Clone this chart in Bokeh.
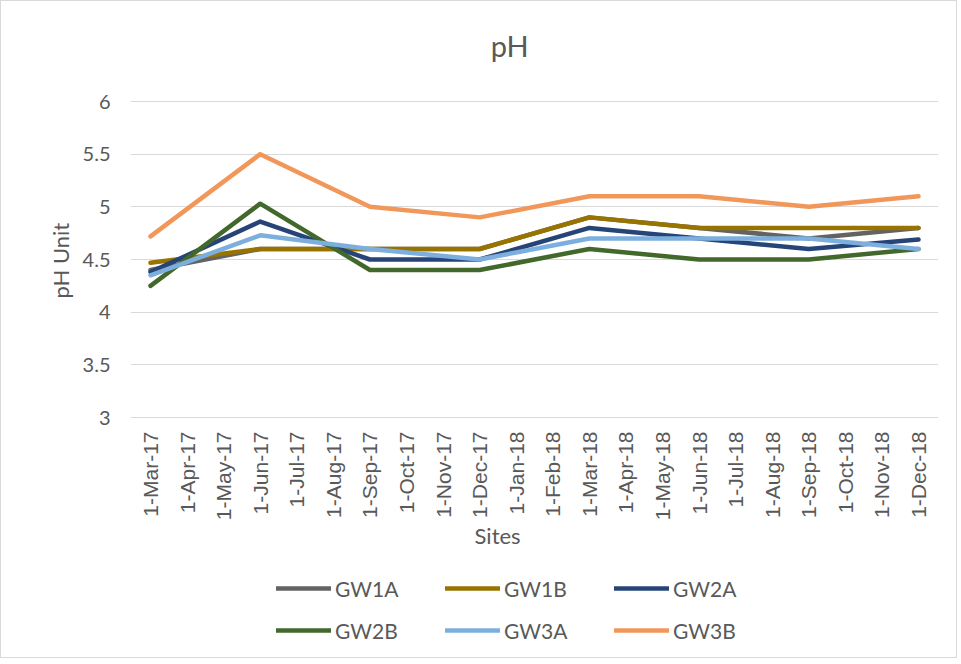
import math
from bokeh.plotting import figure
from bokeh.models import (Legend, LegendItem, FixedTicker, ColumnDataSource, Title,
                          Label, LabelSet)
from bokeh.core.properties import value
from bokeh.embed import file_html
from bokeh.resources import INLINE

# ---- data ----
tick_labels = ["1-Mar-17", "1-Apr-17", "1-May-17", "1-Jun-17", "1-Jul-17", "1-Aug-17",
               "1-Sep-17", "1-Oct-17", "1-Nov-17", "1-Dec-17", "1-Jan-18", "1-Feb-18",
               "1-Mar-18", "1-Apr-18", "1-May-18", "1-Jun-18", "1-Jul-18", "1-Aug-18",
               "1-Sep-18", "1-Oct-18", "1-Nov-18", "1-Dec-18"]
sample_dates = ["1-Mar-17", "1-Jun-17", "1-Sep-17", "1-Dec-17",
                "1-Mar-18", "1-Jun-18", "1-Sep-18", "1-Dec-18"]
GW1A = [4.40, 4.60, 4.60, 4.60, 4.90, 4.80, 4.70, 4.80]
GW1B = [4.47, 4.60, 4.60, 4.60, 4.90, 4.80, 4.80, 4.80]
GW2A = [4.38, 4.86, 4.50, 4.50, 4.80, 4.70, 4.60, 4.69]
GW2B = [4.25, 5.03, 4.40, 4.40, 4.60, 4.50, 4.50, 4.60]
GW3A = [4.35, 4.73, 4.60, 4.50, 4.70, 4.70, 4.70, 4.60]
GW3B = [4.72, 5.50, 5.00, 4.90, 5.10, 5.10, 5.00, 5.10]
series_names = ["GW1A", "GW1B", "GW2A", "GW2B", "GW3A", "GW3B"]
series_values = [GW1A, GW1B, GW2A, GW2B, GW3A, GW3B]
series_colors = ["#636363", "#997300", "#264478", "#43682B", "#7CAFDD", "#F1975A"]
y_ticks = [3, 3.5, 4, 4.5, 5, 5.5, 6]
y_min, y_max = 3, 6

TEXT = "#595959"
FONT = "Lato"
TICK_FONT = "Liberation Sans"

x_idx = [tick_labels.index(d) for d in sample_dates]

# plot area: 316 px for the 3..6 value span; the frame also holds the title,
# the rotated date labels and the legend
px_per_unit = 316 / (y_max - y_min)
y_lo = y_min - 240 / px_per_unit
y_hi = y_max + 100 / px_per_unit

p = figure(frame_width=808, frame_height=656, output_backend="svg", toolbar_location=None,
           x_range=(-0.547, len(tick_labels) - 1 + 0.547), y_range=(y_lo, y_hi),
           min_border_left=129, min_border_right=18, min_border_top=0,
           min_border_bottom=0)
p.styles = {"border": "1px solid #d9d9d9"}
p.outline_line_color = None
p.background_fill_color = "white"
p.border_fill_color = "white"
p.xaxis.visible = False

# y axis
ya = p.yaxis[0]
ya.ticker = FixedTicker(ticks=y_ticks)
ya.major_label_overrides = {t: ("%g" % t) for t in y_ticks}
ya.major_label_text_font = FONT
ya.major_label_text_font_size = "20px"
ya.major_label_text_color = TEXT
ya.major_label_standoff = 20
ya.major_tick_out = 0
ya.major_tick_in = 0
ya.minor_tick_out = 0
ya.minor_tick_in = 0
ya.axis_line_color = None

ylab = Title(text="pH Unit", align="left", offset=359, text_font=FONT,
             text_font_size="22px", text_font_style="normal", text_color=TEXT,
             standoff=12)
p.add_layout(ylab, "left")

p.xgrid.grid_line_color = None
p.ygrid.grid_line_color = "#d9d9d9"
p.ygrid.grid_line_width = 1

items = []
for name, vals, col in zip(series_names, series_values, series_colors):
    src = ColumnDataSource(dict(x=x_idx, y=vals))
    r = p.line("x", "y", source=src, line_color=col, line_width=4.5,
               line_join="round", line_cap="round")
    items.append(LegendItem(label=name, renderers=[r]))

# date tick labels along the bottom of the value area
tick_src = ColumnDataSource(dict(x=list(range(len(tick_labels))),
                                 y=[y_min] * len(tick_labels), text=tick_labels))
p.add_layout(LabelSet(x="x", y="y", text="text", source=tick_src, angle=math.pi / 2,
                      y_offset=-14, text_align="right", text_baseline="middle",
                      text_font=value(TICK_FONT), text_font_size=value("21px"),
                      text_color=value(TEXT)))

# chart title and x-axis title
mid_x = (len(tick_labels) - 1) / 2
p.add_layout(Label(x=mid_x - 0.68, y=y_max, y_offset=56, text="pH", text_align="center",
                   text_baseline="alphabetic", text_font=FONT, text_font_size="29px",
                   text_color=TEXT))
p.add_layout(Label(x=mid_x - 1.01, y=y_min, y_offset=-118, text="Sites",
                   text_align="center", text_baseline="alphabetic", text_font=FONT,
                   text_font_size="22px", text_color=TEXT))

legend = Legend(items=items, orientation="horizontal", ncols=3, location=(146, 6),
                glyph_width=55, glyph_height=42, label_width=110, label_height=42,
                label_standoff=4, spacing=0, padding=0, margin=0,
                label_text_font=FONT, label_text_font_size="21px",
                label_text_color=TEXT, border_line_color=None,
                background_fill_alpha=0)
p.add_layout(legend, "center")

open("out.html", "w").write(file_html(p, INLINE))
